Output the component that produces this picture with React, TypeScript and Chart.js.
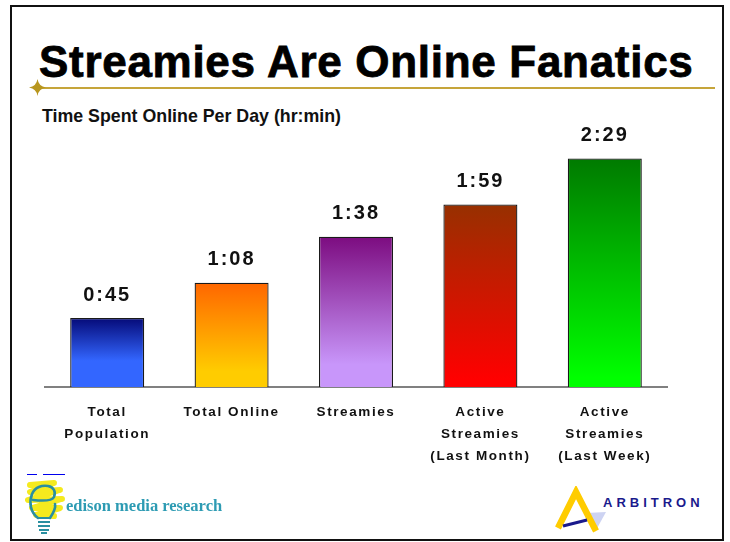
import React, { useEffect, useRef } from "react";
import { Chart, registerables } from "chart.js";
Chart.register(...registerables);

// ---- data ----
const categories: string[][] = [
  ["Total", "Population"],
  ["Total Online"],
  ["Streamies"],
  ["Active", "Streamies", "(Last Month)"],
  ["Active", "Streamies", "(Last Week)"],
];
const minutesOnline: number[] = [45, 68, 98, 119, 149];
const topColors: string[] = ["#050a78", "#ff6600", "#7c0c80", "#973000", "#007a00"];
const bottomColors: string[] = ["#3366ff", "#ffcc00", "#c896fa", "#ff0000", "#00ff00"];
const gradientEnd: number[] = [0.62, 0.85, 0.85, 0.96, 0.96];
const yMax = 180;

const fmt = (m: number) => `${Math.floor(m / 60)}:${String(m % 60).padStart(2, "0")}`;

const valueLabelPlugin = {
  id: "valueLabels",
  beforeDraw(chart: any) {
    (chart.ctx as any).letterSpacing = "1.6px";
  },
  afterDatasetsDraw(chart: any) {
    const ctx = chart.ctx;
    const meta = chart.getDatasetMeta(0);
    ctx.save();
    (ctx as any).letterSpacing = "2px";
    ctx.font = "bold 20px 'Liberation Sans', Arial, sans-serif";
    ctx.fillStyle = "#111";
    ctx.textAlign = "center";
    ctx.textBaseline = "middle";
    meta.data.forEach((bar: any, i: number) => {
      ctx.fillText(fmt(minutesOnline[i]), bar.x, bar.y - 23);
    });
    ctx.restore();
  },
};

export default function App() {
  const ref = useRef<HTMLCanvasElement | null>(null);

  useEffect(() => {
    if (!ref.current) return;
    const chart = new Chart(ref.current, {
      type: "bar",
      data: {
        labels: categories,
        datasets: [
          {
            data: minutesOnline,
            backgroundColor: (c: any) => {
              const i = c.dataIndex ?? 0;
              const ch = c.chart;
              if (!ch.chartArea || !ch.scales.y) return bottomColors[i];
              const ys = ch.scales.y;
              const top = ys.getPixelForValue(minutesOnline[i]);
              const bottom = ys.getPixelForValue(0);
              const g = ch.ctx.createLinearGradient(0, top, 0, bottom);
              g.addColorStop(0, topColors[i]);
              g.addColorStop(gradientEnd[i], bottomColors[i]);
              g.addColorStop(1, bottomColors[i]);
              return g;
            },
            borderColor: "#1a1a1a",
            borderWidth: 1.3,
            barPercentage: 0.595,
            categoryPercentage: 1,
          },
        ],
      },
      options: {
        animation: false,
        responsive: false,
        events: [],
        layout: { padding: { left: 45, right: 63, top: 11, bottom: 3 } },
        plugins: { legend: { display: false }, tooltip: { enabled: false }, title: { display: false } },
        scales: {
          x: {
            grid: { display: false },
            border: { display: true, color: "#808080", width: 2 },
            ticks: {
              color: "#111",
              padding: 6,
              autoSkip: false,
              maxRotation: 0,
              font: { family: "'Liberation Sans', Arial, sans-serif", size: 13.5, weight: "bold", lineHeight: "22px" } as any,
            },
            afterFit: (s: any) => {
              s.height = 90;
            },
          },
          y: { display: false, min: 0, max: yMax },
        },
      },
      plugins: [valueLabelPlugin],
    });
    return () => chart.destroy();
  }, []);

  return (
    <div style={{ position: "absolute", left: 0, top: 0, width: 730, height: 542, background: "#fff", overflow: "hidden" }}>
      <div
        style={{
          position: "absolute",
          left: 10,
          top: 5,
          width: 714,
          height: 536,
          boxSizing: "border-box",
          border: "2px solid #111",
        }}
      />
      <div
        style={{
          position: "absolute",
          left: 39,
          top: 40,
          font: "bold 44px 'Liberation Sans', Arial, sans-serif",
          lineHeight: "44px",
          letterSpacing: "0.7px",
          color: "#000",
          whiteSpace: "nowrap",
          WebkitTextStroke: "0.8px #000",
        }}
      >
        Streamies Are Online Fanatics
      </div>
      <div style={{ position: "absolute", left: 38, top: 87, width: 677, height: 2, background: "#c6a53a" }} />
      <svg style={{ position: "absolute", left: 29, top: 79 }} width={17} height={17} viewBox="0 0 17 17">
        <path d="M8.5 0 Q9.6 7.4 17 8.5 Q9.6 9.6 8.5 17 Q7.4 9.6 0 8.5 Q7.4 7.4 8.5 0 Z" fill="#b8961e" />
      </svg>
      <div
        style={{
          position: "absolute",
          left: 42,
          top: 107,
          font: "bold 17.8px 'Liberation Sans', Arial, sans-serif",
          lineHeight: "18px",
          color: "#111",
          whiteSpace: "nowrap",
        }}
      >
        Time Spent Online Per Day (hr:min)
      </div>
      <canvas ref={ref} width={730} height={380} style={{ position: "absolute", left: 0, top: 100, display: "block" }} />

      {/* edison logo */}
      <div style={{ position: "absolute", left: 27, top: 474, width: 10, height: 1, background: "#0000ee" }} />
      <div style={{ position: "absolute", left: 43, top: 474, width: 22, height: 1, background: "#0000ee" }} />
      <svg style={{ position: "absolute", left: 20, top: 476 }} width={50} height={62} viewBox="0 0 50 62">
        <polyline
          points="10,9 34,7 10,16 40,14 8,24 42,23 12,32 40,32 16,39 34,40"
          fill="none"
          stroke="#f5ea1e"
          strokeWidth={6}
          strokeLinecap="round"
          strokeLinejoin="round"
        />
        <path
          d="M18 42 C10 36 9 26 12 18 C15 11 22 9 28 10 C34 11 36 16 34 21 C32 25 22 25 13 24 M30 42 C34 36 36 32 35 28"
          fill="none"
          stroke="#2a8fa0"
          strokeWidth={2.6}
          strokeLinecap="round"
        />
        <line x1={18} y1={42} x2={30} y2={42} stroke="#2a8fa0" strokeWidth={2} />
        <line x1={18} y1={46} x2={30} y2={46} stroke="#2a8fa0" strokeWidth={2} />
        <line x1={18} y1={50} x2={30} y2={50} stroke="#2a8fa0" strokeWidth={2} />
        <line x1={19} y1={54} x2={29} y2={54} stroke="#2a8fa0" strokeWidth={2} />
        <line x1={21} y1={57} x2={27} y2={57} stroke="#2a8fa0" strokeWidth={2} />
      </svg>
      <div
        style={{
          position: "absolute",
          left: 66,
          top: 497,
          font: "bold 16.5px 'Liberation Serif', 'Times New Roman', serif",
          lineHeight: "18px",
          color: "#2d9bb3",
          whiteSpace: "nowrap",
        }}
      >
        edison media research
      </div>

      {/* arbitron logo */}
      <svg style={{ position: "absolute", left: 550, top: 486 }} width={60} height={50} viewBox="0 0 60 50">
        <polygon points="36,27 56,26 45,46" fill="#cdd3f2" />
        <polyline points="8,42 26,6 46,45" fill="none" stroke="#ffcc00" strokeWidth={6.5} strokeLinejoin="miter" />
        <line x1={13} y1={40} x2={37} y2={34} stroke="#1a1a8c" strokeWidth={3} />
      </svg>
      <div
        style={{
          position: "absolute",
          left: 603,
          top: 496,
          font: "bold 13px 'Liberation Sans', Arial, sans-serif",
          lineHeight: "14px",
          letterSpacing: "4px",
          color: "#1a1a8c",
          whiteSpace: "nowrap",
        }}
      >
        ARBITRON
      </div>
    </div>
  );
}
